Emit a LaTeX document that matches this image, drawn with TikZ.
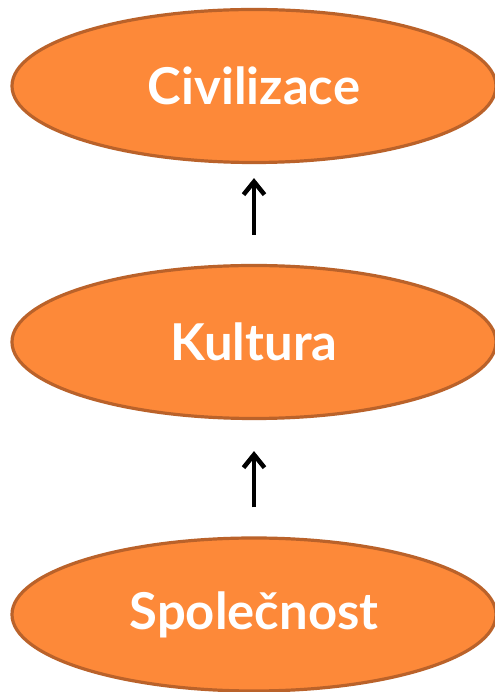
\documentclass[tikz,border=0pt]{standalone}
\usepackage{fontspec}
\setmainfont{Lato}
\usetikzlibrary{shapes.geometric,arrows.meta}
\definecolor{levelfill}{RGB}{253,137,57}
\definecolor{leveldraw}{RGB}{186,98,42}
\tikzset{level/.style={ellipse,draw=leveldraw,fill=levelfill,line width=3.2bp,
    minimum width=484bp,minimum height=153bp,inner sep=0pt,
    text=white,font=\fontsize{51}{60}\selectfont\bfseries}}
\begin{document}
\begin{tikzpicture}[>={Straight Barb[length=13bp,width=21bp]},line join=bevel,]
\useasboundingbox (0bp,0bp) rectangle (495bp,692bp);
%%
\node (civ) at (254bp,606bp) [level] {Civilizace};
  \node (kult) at (254bp,350bp) [level] {Kultura};
  \node (spol) at (254bp,77.5bp) [level] {Společnost};
  \draw [->,line width=4.5bp,shorten <=29bp,shorten >=14bp] (kult) -- (civ);
  \draw [->,line width=4.5bp,shorten <=29bp,shorten >=31bp] (spol) -- (kult);
%
\end{tikzpicture}
\end{document}
